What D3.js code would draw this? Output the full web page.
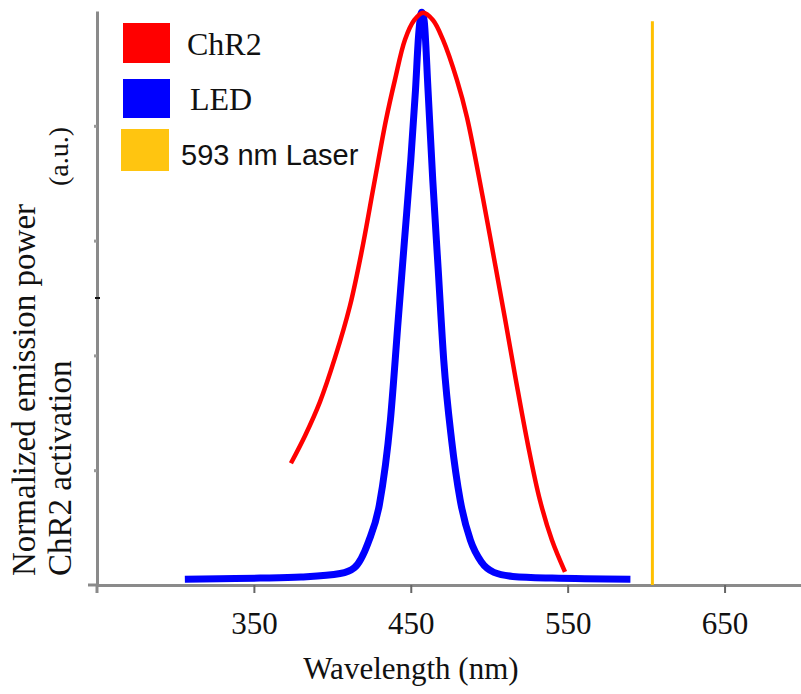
<!DOCTYPE html>
<html>
<head>
<meta charset="utf-8">
<script src="https://cdn.jsdelivr.net/npm/d3@7"></script>
<style>
  body { margin: 0; background: #fff; }
  svg { display: block; }
  .serif { font-family: "Liberation Serif", "Times New Roman", serif; fill: #111; }
</style>
</head>
<body>
<svg id="chart" width="801" height="694"></svg>
<script>
// ChR2 activation spectrum (wavelength nm, normalized)
const chr2Wave = [373.6, 382.6, 392.1, 401.7, 411.2, 418.9, 426.5, 434.2, 439.9, 446.3, 452.2, 457.8, 464.2, 470.5, 479.4, 485.8, 496, 503, 510, 517, 524.7, 532.3, 540, 548.3];
const chr2Val  = [0.212, 0.26, 0.319, 0.396, 0.486, 0.584, 0.697, 0.81, 0.88, 0.95, 0.984, 0.997, 0.984, 0.95, 0.88, 0.815, 0.674, 0.57, 0.465, 0.357, 0.244, 0.148, 0.078, 0.023];

// LED emission spectrum
const ledWave = [306, 328, 354, 380, 405, 414, 423, 430, 437, 442, 446, 450, 453, 455, 457, 458.5, 461, 464, 467.5, 471, 476, 481.5, 488, 495, 503, 515, 540, 590];
const ledVal  = [0.01, 0.011, 0.012, 0.014, 0.02, 0.03, 0.075, 0.14, 0.287, 0.462, 0.601, 0.74, 0.862, 0.958, 0.998, 0.984, 0.862, 0.706, 0.549, 0.392, 0.253, 0.148, 0.078, 0.04, 0.022, 0.015, 0.012, 0.01];

// laser line
const laserWave = 604;
const laserTop = 0.982;

const xTicks = [350, 450, 550, 650];
const yTicks = [0.2, 0.4, 0.6, 0.8];

const legendItems = [
    { label: "ChR2", color: "#ff0000", serif: true },
    { label: "LED", color: "#0000ff", serif: true },
    { label: "593 nm Laser", color: "#ffc510", serif: false }
];

const svg = d3.select("#chart");

const x = d3.scaleLinear().domain([250, 700]).range([97, 803]);
const y = d3.scaleLinear().domain([0, 1]).range([585, 11]);

// axes
const xAxis = svg.append("g")
    .attr("transform", `translate(0,${y(0)})`)
    .call(d3.axisBottom(x).tickValues(xTicks).tickSize(8).tickSizeOuter(0));
xAxis.select(".domain").attr("stroke", "#8a8a8a").attr("stroke-width", 3);
xAxis.selectAll(".tick line").attr("stroke", "#666").attr("stroke-width", 2);
xAxis.selectAll(".tick text")
    .attr("class", "serif")
    .attr("font-size", 31)
    .attr("dy", 0)
    .attr("y", 49)
    .attr("fill", "#111");

const yAxis = svg.append("g")
    .attr("transform", `translate(${x(250)},0)`)
    .call(d3.axisLeft(y).tickValues(yTicks).tickSize(3).tickSizeOuter(0).tickFormat(""));
yAxis.select(".domain").attr("stroke", "#8a8a8a").attr("stroke-width", 3);
yAxis.selectAll(".tick line").attr("stroke", "#999").attr("stroke-width", 3);

// small dark mark at mid height
svg.append("line")
    .attr("x1", x(250) - 2).attr("x2", x(250) + 3)
    .attr("y1", y(0.5)).attr("y2", y(0.5))
    .attr("stroke", "#111").attr("stroke-width", 2);

// axis stubs past the corner
svg.append("line")
    .attr("x1", x(250) - 9).attr("x2", x(250))
    .attr("y1", y(0)).attr("y2", y(0))
    .attr("stroke", "#8a8a8a").attr("stroke-width", 3);
svg.append("line")
    .attr("x1", x(250)).attr("x2", x(250))
    .attr("y1", y(0)).attr("y2", y(0) + 8)
    .attr("stroke", "#8a8a8a").attr("stroke-width", 3);

const ledLine = d3.line()
    .x(d => x(d[0]))
    .y(d => y(d[1]))
    .curve(d3.curveMonotoneX);

const chr2Line = d3.line()
    .x(d => x(d[0]))
    .y(d => y(d[1]))
    .curve(d3.curveCatmullRom.alpha(0.5));

// LED
svg.append("path")
    .datum(d3.zip(ledWave, ledVal))
    .attr("d", ledLine)
    .attr("fill", "none")
    .attr("stroke", "#0000ff")
    .attr("stroke-width", 7)
    .attr("stroke-linejoin", "round");

// ChR2
svg.append("path")
    .datum(d3.zip(chr2Wave, chr2Val))
    .attr("d", chr2Line)
    .attr("fill", "none")
    .attr("stroke", "#ff0000")
    .attr("stroke-width", 4.5)
    .attr("stroke-linejoin", "round");

// 593 nm laser
svg.append("line")
    .attr("x1", x(laserWave)).attr("x2", x(laserWave))
    .attr("y1", y(0)).attr("y2", y(laserTop))
    .attr("stroke", "#ffc000")
    .attr("stroke-width", 3);

// legend
const boxes = [[123, 23, 47, 40], [123, 79, 47, 39], [121, 129, 48, 42]];
const textPos = [[187, 55], [190, 110], [181, 165]];
legendItems.forEach((d, i) => {
    svg.append("rect")
        .attr("x", boxes[i][0]).attr("y", boxes[i][1])
        .attr("width", boxes[i][2]).attr("height", boxes[i][3])
        .attr("fill", d.color);
    svg.append("text")
        .attr("x", textPos[i][0]).attr("y", textPos[i][1])
        .attr("class", d.serif ? "serif" : null)
        .attr("font-family", d.serif ? null : "'Liberation Sans', Arial, sans-serif")
        .attr("font-size", d.serif ? 32 : 29)
        .attr("fill", "#111")
        .text(d.label);
});

// axis titles
svg.append("text")
    .attr("class", "serif")
    .attr("x", 411).attr("y", 679)
    .attr("text-anchor", "middle")
    .attr("font-size", 31)
    .text("Wavelength (nm)");

svg.append("text")
    .attr("class", "serif")
    .attr("transform", "translate(35,576) rotate(-90)")
    .attr("font-size", 33)
    .text("Normalized emission power");

svg.append("text")
    .attr("class", "serif")
    .attr("transform", "translate(71,576) rotate(-90)")
    .attr("font-size", 33)
    .text("ChR2 activation");

svg.append("text")
    .attr("class", "serif")
    .attr("transform", "translate(68,186) rotate(-90)")
    .attr("font-size", 28)
    .text("(a.u.)");
</script>
</body>
</html>
